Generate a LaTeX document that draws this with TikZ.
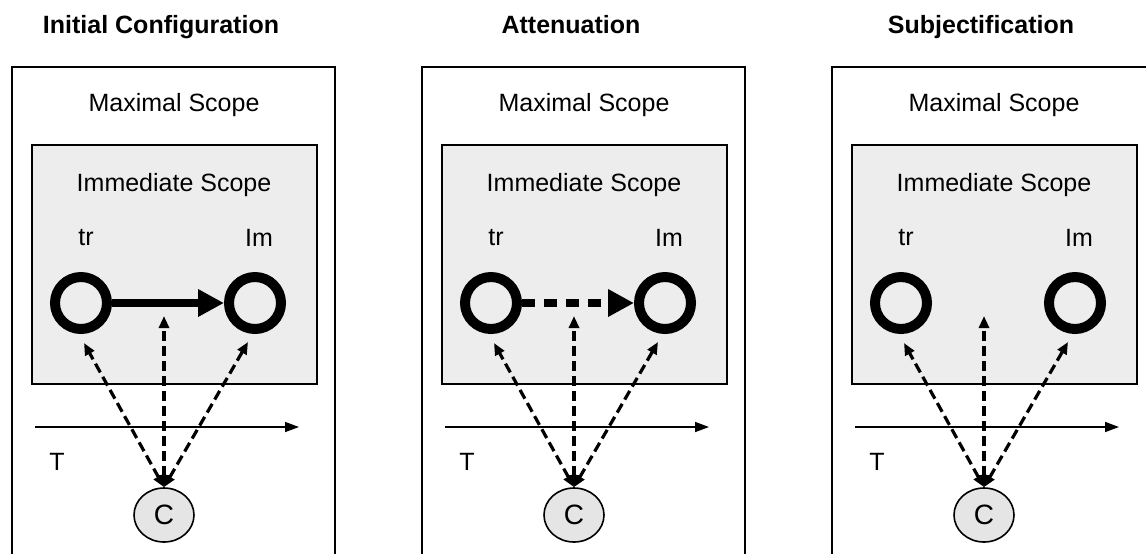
\documentclass[tikz,border=0pt]{standalone}
\usepackage{fontspec}
\setmainfont{Liberation Sans}
\usetikzlibrary{arrows.meta,shapes.geometric}

\begin{document}
\begin{tikzpicture}[x=0.5pt,y=-0.5pt,
    font=\fontsize{12.5}{14}\selectfont,
    frame/.style={line width=1.2pt},
    scopebox/.style={draw,line width=1pt,fill=black!7},
    ring/.style={circle,draw,line width=5pt,minimum size=26pt,inner sep=0pt},
    cnode/.style={ellipse,draw,line width=0.8pt,fill=black!10,minimum width=30pt,
      minimum height=27pt,inner sep=0pt,font=\fontsize{14}{16}\selectfont},
    view/.style={line width=1.6pt,dash pattern=on 5pt off 2.5pt,
      {Triangle[length=6pt,width=5pt]}-{Triangle[length=6pt,width=5pt]}},
    time/.style={line width=0.8pt,-{Triangle[length=7pt,width=5pt]}},
    profile/.style={line width=4pt,-{Triangle[length=13pt,width=13pt]}}]
  \useasboundingbox (0,0) rectangle (1146,553);

  % one panel per stage
  \foreach \i/\ttl in {0/Initial Configuration,1/Attenuation,2/Subjectification} {
    \begin{scope}[shift={(\i*410,0)}]
      \node[anchor=base,font=\bfseries\fontsize{12.5}{14}\selectfont] (title\i) at (161,33) {\ttl};
      \draw[frame] (12,560) -- (12,67) -- (335,67) -- (335,560);
      \node (max\i) at (174,105) {Maximal Scope};
      \draw[scopebox] (32,145) rectangle (317,384);
      \node (imm\i) at (174,185) {Immediate Scope};
      \node (trlab\i) at (86,238) {tr};
      \node (imlab\i) at (259,238) {Im};
      \node[ring] (tr\i) at (81,303) {};
      \node[ring] (im\i) at (255,303) {};
      % time axis
      \coordinate (ts\i) at (35,427);
      \coordinate (te\i) at (299,427);
      \draw[time] (ts\i) -- (te\i);
      \node (T\i) at (57,462) {T};
      % conceptualizer
      \node[cnode] (c\i) at (164,515) {C};
      \coordinate (trtip\i) at (84,343);
      \coordinate (mtip\i) at (164,316);
      \coordinate (imtip\i) at (248,342);
      \draw[view] (c\i.north) -- (trtip\i);
      \draw[view] (c\i.north) -- (mtip\i);
      \draw[view] (c\i.north) -- (imtip\i);
    \end{scope}
  }

  % profiled relation
  \draw[profile] (tr0) -- (im0);
  \draw[profile,dash pattern=on 6.5pt off 4.5pt] (tr1) -- (im1);
\end{tikzpicture}
\end{document}
